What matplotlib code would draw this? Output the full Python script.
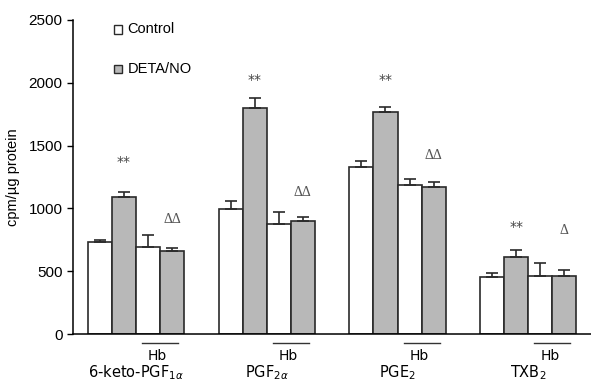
import numpy as np
import matplotlib
matplotlib.use("Agg")
from matplotlib import pyplot as plt
from matplotlib.patches import Rectangle
import matplotlib.transforms as mtransforms

# data (cpm/ug protein)
groups = [r'6-keto-PGF$_{1\alpha}$', r'PGF$_{2\alpha}$', r'PGE$_{2}$', r'TXB$_{2}$']
control = [730, 993, 1332, 451]
control_err = [18, 66, 45, 35]
deta = [1093, 1802, 1765, 611]
deta_err = [40, 79, 45, 58]
hb_control = [695, 878, 1184, 462]
hb_control_err = [93, 91, 53, 106]
hb_deta = [661, 900, 1168, 462]
hb_deta_err = [21, 34, 45, 48]
star_labels = ['**', '**', '**', '**']
star_y = [1370, 2020, 2020, 855]
delta_labels = [u'\u0394\u0394', u'\u0394\u0394', u'\u0394\u0394', u'\u0394']
delta_y = [908, 1130, 1420, 828]

fig = plt.figure(figsize=(5.91, 3.84), dpi=100)
ax = fig.add_axes([73 / 591, 1 - 334 / 384, 1 - 73 / 591, (334 - 20) / 384])

x = np.arange(len(groups))
w = 0.184
grey = '#b8b8b8'
edge = '#2a2a2a'

series = [
    (control, control_err, 'white', -1.5),
    (deta, deta_err, grey, -0.5),
    (hb_control, hb_control_err, 'white', 0.5),
    (hb_deta, hb_deta_err, grey, 1.5),
]
for vals, errs, col, off in series:
    pos = x + off * w
    ax.bar(pos, vals, width=w, color=col, edgecolor=edge, linewidth=1.2, zorder=2)
    ax.errorbar(pos, vals, yerr=[np.zeros(len(vals)), errs], fmt='none',
                ecolor=edge, elinewidth=1.2, capsize=4, capthick=1.2, zorder=3)

# significance marks
for i in range(len(groups)):
    ax.text(x[i] - 0.5 * w, star_y[i], star_labels[i], ha='center', va='center',
            fontsize=10, color='#444444', family='DejaVu Sans')
    ax.text(x[i] + 1.5 * w, delta_y[i], delta_labels[i], ha='center', va='center',
            fontsize=10, color='#555555', family='Liberation Serif')

# Hb bars and group names below axis
trans = mtransforms.blended_transform_factory(ax.transData, ax.transAxes)
for i in range(len(groups)):
    ax.plot([x[i] + 0.25 * w, x[i] + 1.75 * w], [-0.03, -0.03], color='#333333',
            lw=1.0, transform=trans, clip_on=False)
    ax.text(x[i] + 0.9 * w, -0.07, 'Hb', ha='center', va='center', fontsize=10,
            transform=trans, family='DejaVu Sans')
    ax.text(x[i], -0.124, groups[i], ha='center', va='center', fontsize=10.5,
            transform=trans, family='DejaVu Sans')

# legend boxes
for yv, col, lab in [(2425, 'white', 'Control'), (2110, grey, 'DETA/NO')]:
    ax.add_patch(Rectangle((-0.168, yv - 35), 0.062, 70, facecolor=col,
                           edgecolor=edge, lw=1.0, clip_on=False))
    ax.text(-0.065, yv, lab, va='center', ha='left', fontsize=10.5,
            family='Liberation Sans')

ax.set_xlim(-0.482, 3.48)
ax.set_ylim(0, 2500)
ax.set_yticks([0, 500, 1000, 1500, 2000, 2500])
ax.set_xticks([])
for lab in ax.get_yticklabels():
    lab.set_family('Liberation Sans')
ax.tick_params(axis='y', labelsize=11, direction='out', length=4, width=1)
ax.spines['top'].set_visible(False)
ax.spines['right'].set_visible(False)
ax.spines['left'].set_linewidth(1.1)
ax.spines['bottom'].set_linewidth(1.1)
ax.set_ylabel(u'cpm/\u00b5g protein', fontsize=10.5, family='Liberation Sans', labelpad=6)

fig.savefig('out.png', dpi=100)
